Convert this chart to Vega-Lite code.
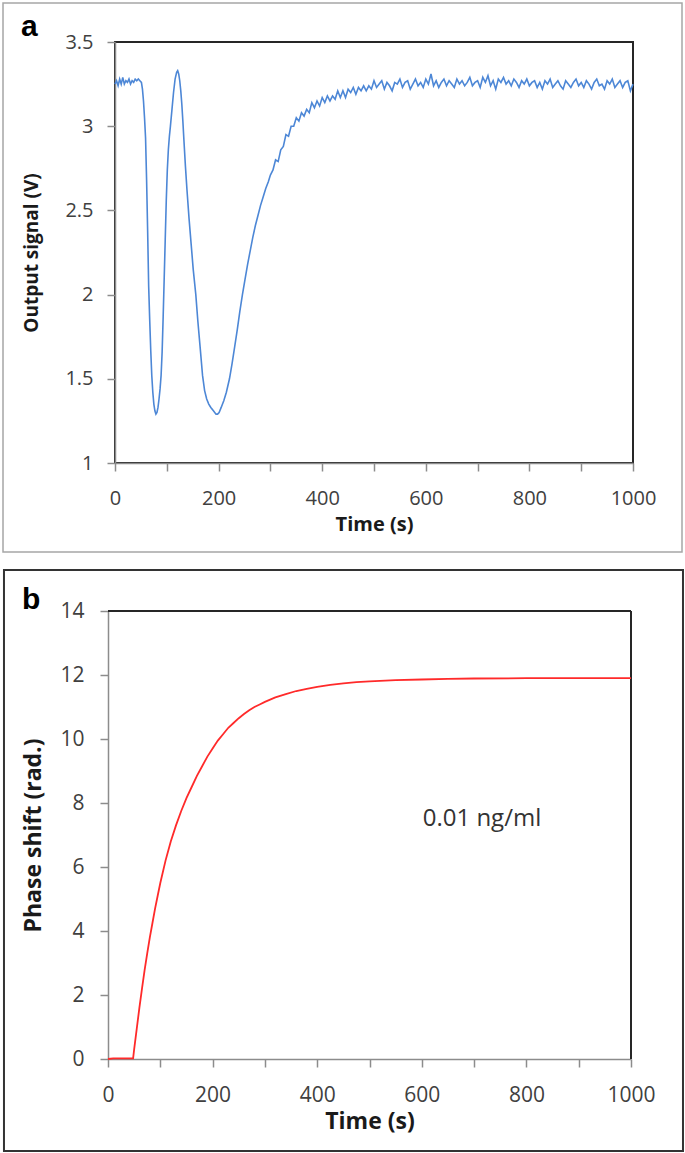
{
  "$schema": "https://vega.github.io/schema/vega-lite/v6.json",
  "padding": {"left": 1, "top": 1, "right": 1, "bottom": 1},
  "background": "white",
  "spacing": 15,
  "config": {
    "font": "Open Sans",
    "view": {"stroke": "#262626", "strokeWidth": 2},
    "axis": {
      "grid": false,
      "domainColor": "#8c8c8c",
      "domainWidth": 1.5,
      "tickColor": "#8c8c8c",
      "tickWidth": 1.5,
      "tickSize": 8,
      "labelColor": "#404040",
      "labelFont": "Open Sans",
      "titleFont": "Open Sans",
      "titleFontWeight": "bold",
      "titleColor": "#1a1a1a",
      "labelOverlap": false,
      "labelFlush": false
    }
  },
  "vconcat": [
    {
      "width": 518,
      "height": 421,
      "layer": [
        {
          "data": {"values": [{}]},
          "mark": {"type": "rect", "filled": false, "stroke": "#a6a6a6", "strokeWidth": 1.5},
          "encoding": {
            "x": {"datum": -216.2, "type": "quantitative", "scale": {"domain": [0, 1000], "nice": false, "zero": false}},
            "x2": {"datum": 1094.6},
            "y": {"datum": 3.7316, "type": "quantitative", "scale": {"domain": [1, 3.5], "nice": false, "zero": false}},
            "y2": {"datum": 0.4715}
          }
        },
        {
          "data": {"values": [{}]},
          "mark": {"type": "text", "text": "a", "font": "Liberation Sans", "fontWeight": "bold", "fontSize": 30, "align": "left", "baseline": "alphabetic", "color": "#000000"},
          "encoding": {
            "x": {"datum": -181.5, "type": "quantitative"},
            "y": {"datum": 3.536, "type": "quantitative"}
          }
        },
        {
          "data": {"values": [
            {"t":0,"v":3.25},{"t":3,"v":3.27},{"t":6,"v":3.24},{"t":9,"v":3.28},{"t":12,"v":3.25},{"t":15,"v":3.29},{"t":18,"v":3.25},{"t":21,"v":3.27},{"t":24,"v":3.26},{"t":27,"v":3.28},{"t":30,"v":3.25},{"t":33,"v":3.27},{"t":36,"v":3.26},{"t":39,"v":3.28},{"t":42,"v":3.27},{"t":45,"v":3.28},{"t":48,"v":3.27},{"t":51,"v":3.26},
            {"t":53,"v":3.22},{"t":55,"v":3.15},{"t":57,"v":3.05},{"t":59,"v":2.93},{"t":61,"v":2.68},{"t":63,"v":2.38},{"t":65,"v":2.05},{"t":67,"v":1.85},{"t":69,"v":1.67},{"t":71,"v":1.52},{"t":73,"v":1.42},{"t":75,"v":1.35},{"t":77,"v":1.31},{"t":79,"v":1.29},{"t":81,"v":1.30},{"t":83,"v":1.33},{"t":85,"v":1.38},{"t":87,"v":1.44},{"t":89,"v":1.52},{"t":91,"v":1.66},{"t":93,"v":1.87},{"t":95,"v":2.10},{"t":97,"v":2.33},{"t":99,"v":2.56},{"t":101,"v":2.74},{"t":103,"v":2.86},{"t":105,"v":2.94},{"t":107,"v":3.00},{"t":110,"v":3.10},{"t":113,"v":3.20},{"t":116,"v":3.28},{"t":119,"v":3.32},{"t":121,"v":3.33},{"t":123,"v":3.31},
            {"t":125,"v":3.27},{"t":127,"v":3.21},{"t":129,"v":3.13},{"t":131,"v":3.03},{"t":133,"v":2.92},{"t":136,"v":2.76},{"t":139,"v":2.62},{"t":143,"v":2.45},{"t":147,"v":2.30},{"t":151,"v":2.15},{"t":156,"v":2.00},{"t":160,"v":1.84},{"t":164,"v":1.70},{"t":169,"v":1.52},{"t":173,"v":1.43},{"t":177,"v":1.38},{"t":181,"v":1.35},{"t":185,"v":1.33},{"t":190,"v":1.31},{"t":195,"v":1.29},{"t":198,"v":1.29},
            {"t":201,"v":1.30},{"t":205,"v":1.33},{"t":210,"v":1.37},{"t":215,"v":1.42},{"t":221,"v":1.50},{"t":226,"v":1.59},{"t":231,"v":1.69},{"t":236,"v":1.79},{"t":241,"v":1.90},{"t":246,"v":2.00},{"t":251,"v":2.09},{"t":256,"v":2.18},{"t":261,"v":2.26},{"t":266,"v":2.34},{"t":271,"v":2.41},{"t":276,"v":2.47},{"t":281,"v":2.53},{"t":286,"v":2.58},{"t":291,"v":2.63},{"t":296,"v":2.67},
            {"t":300,"v":2.71},{"t":305,"v":2.74},{"t":310,"v":2.80},{"t":315,"v":2.79},{"t":320,"v":2.86},{"t":325,"v":2.88},{"t":330,"v":2.95},{"t":335,"v":2.94},{"t":340,"v":3.00},{"t":345,"v":3.00},{"t":350,"v":3.05},{"t":355,"v":3.03},{"t":360,"v":3.08},{"t":365,"v":3.06},{"t":370,"v":3.10},{"t":375,"v":3.08},{"t":380,"v":3.14},{"t":385,"v":3.11},{"t":390,"v":3.15},{"t":395,"v":3.12},
            {"t":400,"v":3.17},{"t":405,"v":3.14},{"t":410,"v":3.18},{"t":415,"v":3.15},{"t":420,"v":3.18},{"t":425,"v":3.16},{"t":430,"v":3.21},{"t":435,"v":3.17},{"t":440,"v":3.21},{"t":445,"v":3.17},{"t":450,"v":3.22},{"t":455,"v":3.20},{"t":460,"v":3.23},{"t":465,"v":3.19},{"t":470,"v":3.23},{"t":475,"v":3.21},{"t":480,"v":3.24},{"t":485,"v":3.21},{"t":490,"v":3.24},{"t":495,"v":3.22},
            {"t":500,"v":3.27},{"t":505,"v":3.23},{"t":510,"v":3.25},{"t":515,"v":3.27},{"t":520,"v":3.22},{"t":525,"v":3.26},{"t":530,"v":3.24},{"t":535,"v":3.21},{"t":540,"v":3.26},{"t":545,"v":3.25},{"t":550,"v":3.28},{"t":555,"v":3.23},{"t":560,"v":3.26},{"t":565,"v":3.27},{"t":570,"v":3.22},{"t":575,"v":3.25},{"t":580,"v":3.28},{"t":585,"v":3.24},{"t":590,"v":3.26},{"t":595,"v":3.23},
            {"t":600,"v":3.28},{"t":605,"v":3.25},{"t":610,"v":3.31},{"t":615,"v":3.24},{"t":620,"v":3.27},{"t":625,"v":3.23},{"t":630,"v":3.26},{"t":635,"v":3.28},{"t":640,"v":3.24},{"t":645,"v":3.27},{"t":650,"v":3.25},{"t":655,"v":3.23},{"t":660,"v":3.28},{"t":665,"v":3.25},{"t":670,"v":3.27},{"t":675,"v":3.24},{"t":680,"v":3.26},{"t":685,"v":3.29},{"t":690,"v":3.24},{"t":695,"v":3.26},
            {"t":700,"v":3.27},{"t":705,"v":3.23},{"t":710,"v":3.29},{"t":715,"v":3.26},{"t":720,"v":3.30},{"t":725,"v":3.24},{"t":730,"v":3.27},{"t":735,"v":3.22},{"t":740,"v":3.28},{"t":745,"v":3.26},{"t":750,"v":3.29},{"t":755,"v":3.25},{"t":760,"v":3.27},{"t":765,"v":3.24},{"t":770,"v":3.28},{"t":775,"v":3.26},{"t":780,"v":3.23},{"t":785,"v":3.27},{"t":790,"v":3.25},{"t":795,"v":3.28},
            {"t":800,"v":3.24},{"t":805,"v":3.26},{"t":810,"v":3.27},{"t":815,"v":3.23},{"t":820,"v":3.26},{"t":825,"v":3.22},{"t":830,"v":3.27},{"t":835,"v":3.25},{"t":840,"v":3.28},{"t":845,"v":3.23},{"t":850,"v":3.25},{"t":855,"v":3.27},{"t":860,"v":3.24},{"t":865,"v":3.22},{"t":870,"v":3.27},{"t":875,"v":3.25},{"t":880,"v":3.23},{"t":885,"v":3.26},{"t":890,"v":3.28},{"t":895,"v":3.24},
            {"t":900,"v":3.26},{"t":905,"v":3.23},{"t":910,"v":3.27},{"t":915,"v":3.25},{"t":920,"v":3.22},{"t":925,"v":3.26},{"t":930,"v":3.28},{"t":935,"v":3.24},{"t":940,"v":3.25},{"t":945,"v":3.22},{"t":950,"v":3.27},{"t":955,"v":3.25},{"t":960,"v":3.28},{"t":965,"v":3.23},{"t":970,"v":3.25},{"t":975,"v":3.27},{"t":980,"v":3.23},{"t":985,"v":3.26},{"t":990,"v":3.27},{"t":995,"v":3.21},{"t":1000,"v":3.25}
          ]},
          "mark": {"type": "line", "color": "#4d87d6", "strokeWidth": 1.6},
          "encoding": {
            "x": {
              "field": "t", "type": "quantitative",
              "scale": {"domain": [0, 1000], "nice": false, "zero": false},
              "axis": {
                "title": "Time (s)",
                "values": [0, 100, 200, 300, 400, 500, 600, 700, 800, 900, 1000],
                "format": "d",
                "labelExpr": "datum.value % 200 === 0 ? datum.label : ''",
                "labelFontSize": 20, "titleFontSize": 20,
                "labelPadding": 17, "titlePadding": 6
              }
            },
            "y": {
              "field": "v", "type": "quantitative",
              "scale": {"domain": [1, 3.5], "nice": false, "zero": false},
              "axis": {
                "title": "Output signal (V)",
                "values": [1, 1.5, 2, 2.5, 3, 3.5],
                "format": "~g",
                "labelFontSize": 20, "titleFontSize": 19,
                "labelPadding": 14, "titlePadding": 23
              }
            }
          }
        }
      ]
    },
    {
      "width": 516,
      "height": 448,
      "view": {"stroke": null},
      "layer": [
        {
          "data": {"values": [{}]},
          "mark": {"type": "rect", "filled": false, "stroke": "#333333", "strokeWidth": 2},
          "encoding": {
            "x": {"datum": -198.9, "type": "quantitative", "scale": {"domain": [0, 1000], "range": [-7, 516], "nice": false, "zero": false}},
            "x2": {"datum": 1099.4},
            "y": {"datum": 15.281, "type": "quantitative", "scale": {"domain": [0, 14], "nice": false, "zero": false}},
            "y2": {"datum": -2.875}
          }
        },
        {
          "data": {"values": [{}]},
          "mark": {"type": "rule", "color": "#262626", "strokeWidth": 2},
          "encoding": {
            "x": {"datum": 0, "type": "quantitative"},
            "x2": {"datum": 1000},
            "y": {"datum": 14, "type": "quantitative"}
          }
        },
        {
          "data": {"values": [{}]},
          "mark": {"type": "rule", "color": "#262626", "strokeWidth": 2},
          "encoding": {
            "x": {"datum": 1000, "type": "quantitative"},
            "y": {"datum": 0, "type": "quantitative"},
            "y2": {"datum": 14}
          }
        },
        {
          "data": {"values": [{}]},
          "mark": {"type": "text", "text": "b", "font": "Liberation Sans", "fontWeight": "bold", "fontSize": 30, "align": "left", "baseline": "alphabetic", "color": "#000000"},
          "encoding": {
            "x": {"datum": -164.4, "type": "quantitative"},
            "y": {"datum": 14.07, "type": "quantitative"}
          }
        },
        {
          "data": {"values": [{}]},
          "mark": {"type": "text", "text": "0.01 ng/ml", "font": "Open Sans", "fontSize": 24, "align": "center", "baseline": "middle", "color": "#333333"},
          "encoding": {
            "x": {"datum": 715, "type": "quantitative"},
            "y": {"datum": 7.5, "type": "quantitative"}
          }
        },
        {
          "data": {"values": [
            {"t":0,"v":0},{"t":10,"v":0.02},{"t":20,"v":0.02},{"t":30,"v":0.02},{"t":40,"v":0.02},{"t":48,"v":0.02},{"t":50,"v":0.3},{"t":55,"v":0.95},{"t":60,"v":1.6},{"t":65,"v":2.2},{"t":70,"v":2.78},{"t":75,"v":3.3},{"t":80,"v":3.8},{"t":85,"v":4.25},{"t":90,"v":4.7},{"t":95,"v":5.1},{"t":100,"v":5.5},
            {"t":110,"v":6.2},{"t":120,"v":6.8},{"t":130,"v":7.3},{"t":140,"v":7.75},{"t":150,"v":8.15},{"t":160,"v":8.5},{"t":170,"v":8.85},{"t":180,"v":9.15},{"t":190,"v":9.45},{"t":200,"v":9.7},{"t":210,"v":9.95},{"t":220,"v":10.15},{"t":230,"v":10.35},{"t":240,"v":10.5},{"t":250,"v":10.65},{"t":260,"v":10.78},{"t":270,"v":10.9},{"t":280,"v":11.0},{"t":290,"v":11.08},{"t":300,"v":11.16},
            {"t":320,"v":11.3},{"t":340,"v":11.4},{"t":360,"v":11.5},{"t":380,"v":11.57},{"t":400,"v":11.63},{"t":425,"v":11.69},{"t":450,"v":11.74},{"t":475,"v":11.78},{"t":500,"v":11.8},{"t":550,"v":11.84},{"t":600,"v":11.86},{"t":650,"v":11.88},{"t":700,"v":11.89},{"t":800,"v":11.9},{"t":900,"v":11.9},{"t":1000,"v":11.9}
          ]},
          "mark": {"type": "line", "color": "#ff2a2a", "strokeWidth": 1.8},
          "encoding": {
            "x": {
              "field": "t", "type": "quantitative",
              "scale": {"domain": [0, 1000], "range": [-7, 516], "nice": false, "zero": false},
              "axis": {
                "title": "Time (s)",
                "values": [0, 100, 200, 300, 400, 500, 600, 700, 800, 900, 1000],
                "format": "d",
                "labelExpr": "datum.value % 200 === 0 ? datum.label : ''",
                "labelFontSize": 21, "titleFontSize": 23,
                "labelPadding": 17, "titlePadding": 5
              }
            },
            "y": {
              "field": "v", "type": "quantitative",
              "scale": {"domain": [0, 14], "nice": false, "zero": false},
              "axis": {
                "title": "Phase shift (rad.)",
                "values": [0, 2, 4, 6, 8, 10, 12, 14],
                "offset": 7,
                "labelFontSize": 21, "titleFontSize": 23,
                "labelPadding": 16, "titlePadding": 14
              }
            }
          }
        }
      ]
    }
  ]
}
